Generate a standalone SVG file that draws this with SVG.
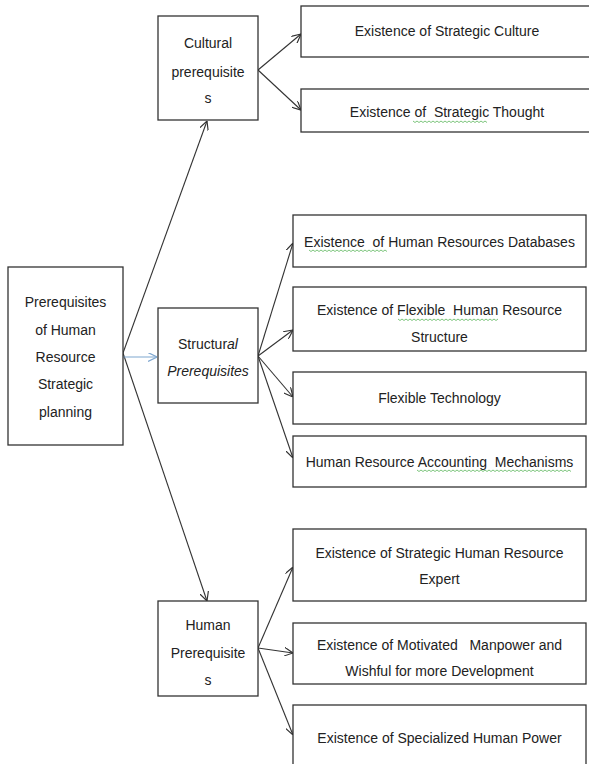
<svg xmlns="http://www.w3.org/2000/svg" width="589" height="764" viewBox="0 0 589 764">
<defs>
<style>
.box{fill:#fff;stroke:#333;stroke-width:1.3}
.t{font-family:"Liberation Sans",Arial,sans-serif;font-size:14px;fill:#222;text-anchor:middle}
.c{fill:none;stroke:#333;stroke-width:1.1}
.sq{fill:none;stroke:#5bb55b;stroke-width:0.8}
</style>
<marker id="ah" viewBox="0 0 10 10" refX="10" refY="5" markerWidth="9" markerHeight="9" markerUnits="userSpaceOnUse" orient="auto">
<path d="M0,0 L10,5 L0,10" fill="none" stroke="#333" stroke-width="1.3"/>
</marker>
<marker id="ahb" viewBox="0 0 10 10" refX="10" refY="5" markerWidth="9" markerHeight="9" markerUnits="userSpaceOnUse" orient="auto">
<path d="M0,0 L10,5 L0,10" fill="none" stroke="#7fa7d0" stroke-width="1.3"/>
</marker>
</defs>
<rect width="589" height="764" fill="#fff"/>

<g id="connectors">
<line class="c" x1="123" y1="353" x2="207" y2="121" marker-end="url(#ah)"/>
<line class="c" x1="123" y1="353" x2="207" y2="601" marker-end="url(#ah)"/>
<line x1="123" y1="357" x2="157" y2="357" stroke="#7fa7d0" stroke-width="1.2" marker-end="url(#ahb)"/>
<line class="c" x1="258" y1="70" x2="301" y2="34" marker-end="url(#ah)"/>
<line class="c" x1="258" y1="70" x2="301" y2="110" marker-end="url(#ah)"/>
<line class="c" x1="258" y1="356" x2="293" y2="243" marker-end="url(#ah)"/>
<line class="c" x1="258" y1="356" x2="293" y2="330" marker-end="url(#ah)"/>
<line class="c" x1="258" y1="356" x2="293" y2="397" marker-end="url(#ah)"/>
<line class="c" x1="258" y1="356" x2="293" y2="458" marker-end="url(#ah)"/>
<line class="c" x1="258" y1="648" x2="293" y2="567" marker-end="url(#ah)"/>
<line class="c" x1="258" y1="648" x2="293" y2="653" marker-end="url(#ah)"/>
<line class="c" x1="258" y1="648" x2="293" y2="735" marker-end="url(#ah)"/>
</g>

<g id="main">
<rect class="box" x="8" y="267" width="115" height="178"/>
<text class="t" x="65.5" y="307">Prerequisites</text>
<text class="t" x="65.5" y="335">of Human</text>
<text class="t" x="65.5" y="362">Resource</text>
<text class="t" x="65.5" y="389">Strategic</text>
<text class="t" x="65.5" y="417">planning</text>
</g>

<g id="cultural">
<rect class="box" x="158" y="16" width="100" height="104"/>
<text class="t" x="208" y="48">Cultural</text>
<text class="t" x="208" y="77">prerequisite</text>
<text class="t" x="208" y="103">s</text>
</g>

<g id="structural">
<rect class="box" x="158" y="308" width="100" height="95"/>
<text class="t" x="208" y="349">Structur<tspan font-style="italic">al</tspan></text>
<text class="t" x="208" y="376" font-style="italic">Prerequisites</text>
</g>

<g id="human">
<rect class="box" x="158" y="601" width="100" height="95"/>
<text class="t" x="208" y="630">Human</text>
<text class="t" x="208" y="658">Prerequisite</text>
<text class="t" x="208" y="685">s</text>
</g>

<g id="culture">
<rect class="box" x="301" y="6" width="300" height="51"/>
<text class="t" x="447" y="36">Existence of Strategic Culture</text>
</g>

<g id="thought">
<rect class="box" x="301" y="89" width="300" height="43"/>
<text class="t" x="447" y="117" xml:space="preserve">Existence of  Strategic Thought</text>
<path class="sq" d="M413,121 l2,1.5 l2,-1.5 l2,1.5 l2,-1.5 l2,1.5 l2,-1.5 l2,1.5 l2,-1.5 l2,1.5 l2,-1.5 l2,1.5 l2,-1.5 l2,1.5 l2,-1.5 l2,1.5 l2,-1.5 l2,1.5 l2,-1.5 l2,1.5 l2,-1.5 l2,1.5 l2,-1.5 l2,1.5 l2,-1.5 l2,1.5 l2,-1.5 l2,1.5 l2,-1.5 l2,1.5 l2,-1.5 l2,1.5 l2,-1.5 l2,1.5 l2,-1.5 l2,1.5 l2,-1.5 l2,1.5"/>
</g>

<g id="databases">
<rect class="box" x="293" y="215" width="293" height="52"/>
<text class="t" x="439.5" y="247" xml:space="preserve">Existence  of Human Resources Databases</text>
<path class="sq" d="M309,250 l2,1.5 l2,-1.5 l2,1.5 l2,-1.5 l2,1.5 l2,-1.5 l2,1.5 l2,-1.5 l2,1.5 l2,-1.5 l2,1.5 l2,-1.5 l2,1.5 l2,-1.5 l2,1.5 l2,-1.5 l2,1.5 l2,-1.5 l2,1.5 l2,-1.5 l2,1.5 l2,-1.5 l2,1.5 l2,-1.5 l2,1.5 l2,-1.5 l2,1.5 l2,-1.5 l2,1.5 l2,-1.5 l2,1.5 l2,-1.5 l2,1.5 l2,-1.5 l2,1.5 l2,-1.5 l2,1.5 l2,-1.5 l2,1.5"/>
</g>

<g id="flexstructure">
<rect class="box" x="293" y="287" width="293" height="64"/>
<text class="t" x="439.5" y="315" xml:space="preserve">Existence of Flexible  Human Resource</text>
<text class="t" x="439.5" y="342">Structure</text>
<path class="sq" d="M398,319 l2,1.5 l2,-1.5 l2,1.5 l2,-1.5 l2,1.5 l2,-1.5 l2,1.5 l2,-1.5 l2,1.5 l2,-1.5 l2,1.5 l2,-1.5 l2,1.5 l2,-1.5 l2,1.5 l2,-1.5 l2,1.5 l2,-1.5 l2,1.5 l2,-1.5 l2,1.5 l2,-1.5 l2,1.5 l2,-1.5 l2,1.5 l2,-1.5 l2,1.5 l2,-1.5 l2,1.5 l2,-1.5 l2,1.5 l2,-1.5 l2,1.5 l2,-1.5 l2,1.5 l2,-1.5 l2,1.5 l2,-1.5 l2,1.5 l2,-1.5 l2,1.5 l2,-1.5 l2,1.5 l2,-1.5 l2,1.5 l2,-1.5 l2,1.5 l2,-1.5 l2,1.5 l2,-1.5"/>
</g>

<g id="technology">
<rect class="box" x="293" y="372" width="293" height="52"/>
<text class="t" x="439.5" y="403">Flexible Technology</text>
</g>

<g id="accounting">
<rect class="box" x="293" y="436" width="293" height="51"/>
<text class="t" x="439.5" y="467" xml:space="preserve">Human Resource Accounting  Mechanisms</text>
<path class="sq" d="M417,470 l2,1.5 l2,-1.5 l2,1.5 l2,-1.5 l2,1.5 l2,-1.5 l2,1.5 l2,-1.5 l2,1.5 l2,-1.5 l2,1.5 l2,-1.5 l2,1.5 l2,-1.5 l2,1.5 l2,-1.5 l2,1.5 l2,-1.5 l2,1.5 l2,-1.5 l2,1.5 l2,-1.5 l2,1.5 l2,-1.5 l2,1.5 l2,-1.5 l2,1.5 l2,-1.5 l2,1.5 l2,-1.5 l2,1.5 l2,-1.5 l2,1.5 l2,-1.5 l2,1.5 l2,-1.5 l2,1.5 l2,-1.5 l2,1.5 l2,-1.5 l2,1.5 l2,-1.5 l2,1.5 l2,-1.5 l2,1.5 l2,-1.5 l2,1.5 l2,-1.5 l2,1.5 l2,-1.5 l2,1.5 l2,-1.5 l2,1.5 l2,-1.5 l2,1.5 l2,-1.5 l2,1.5 l2,-1.5 l2,1.5 l2,-1.5 l2,1.5 l2,-1.5 l2,1.5 l2,-1.5 l2,1.5 l2,-1.5 l2,1.5 l2,-1.5 l2,1.5 l2,-1.5 l2,1.5 l2,-1.5 l2,1.5 l2,-1.5 l2,1.5 l2,-1.5 l2,1.5"/>
</g>

<g id="expert">
<rect class="box" x="293" y="529" width="293" height="72"/>
<text class="t" x="439.5" y="558">Existence of Strategic Human Resource</text>
<text class="t" x="439.5" y="584">Expert</text>
</g>

<g id="motivated">
<rect class="box" x="293" y="623" width="293" height="61"/>
<text class="t" x="439.5" y="650" xml:space="preserve">Existence of Motivated   Manpower and</text>
<text class="t" x="439.5" y="676">Wishful for more Development</text>
</g>

<g id="specialized">
<rect class="box" x="293" y="705" width="293" height="80"/>
<text class="t" x="439.5" y="743">Existence of Specialized Human Power</text>
</g>
</svg>
